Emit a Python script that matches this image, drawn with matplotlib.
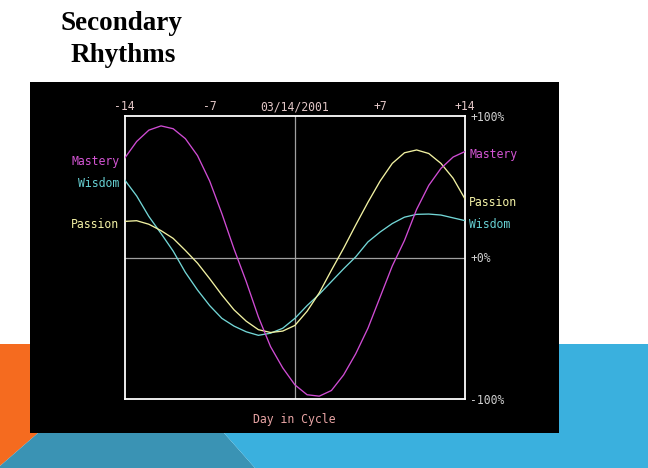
import matplotlib
matplotlib.use('Agg')
import matplotlib.pyplot as plt
from matplotlib.patches import Polygon

# ---------------- data ----------------
days = list(range(-14, 15))
mastery = [70, 82, 90, 93, 91, 84, 72, 54, 31, 6, -17, -42, -63, -78,
           -90,
           -97, -98, -94, -83, -68, -50, -28, -6, 12, 34, 51, 63, 71, 75]
passion = [25.5, 26, 23.5, 19, 13.5, 5, -4, -15, -26.5, -37, -45, -51, -53, -52,
           -48,
           -38, -25, -9, 6.5, 23, 39, 54, 66.5, 74, 76, 73.5, 66.5, 56, 41]
wisdom = [55, 43.5, 29, 17, 4.5, -10.5, -23, -34, -43, -48.5, -52.5, -55, -53.5, -50,
          -43,
          -34, -26, -17, -8, 0.5, 11, 18, 24, 28.5, 30.5, 30.7, 30, 28, 26]
series_names = ['Mastery', 'Wisdom', 'Passion']
top_ticks = [-14, -7, 0, 7, 14]
top_labels = ['-14', '-7', '03/14/2001', '+7', '+14']
y_ticks = [100, 0, -100]
y_labels = ['+100%', '+0%', '-100%']
title_lines = ['Secondary', 'Rhythms']
xlabel = 'Day in Cycle'

# ---------------- figure ----------------
W, H = 648, 468
fig = plt.figure(figsize=(W / 100, H / 100), dpi=100)
fig.patch.set_facecolor('white')


def fx(x):
    return x / W


def fy(y):
    return 1 - y / H


def poly(pts, color, z=-5):
    fig.add_artist(Polygon([(fx(x), fy(y)) for x, y in pts], closed=True,
                           transform=fig.transFigure, facecolor=color,
                           edgecolor='none', zorder=z))


ORANGE = '#F56B1F'
TEAL = '#3A93B4'
LBLUE = '#3AB0DE'

# slide decoration
poly([(0, 344), (40, 344), (40, 433), (0, 433)], ORANGE)
poly([(0, 433), (38, 433), (0, 466)], ORANGE)
poly([(38, 433), (224, 433), (255, 468), (0, 468), (0, 466)], TEAL)
poly([(224, 433), (648, 433), (648, 468), (255, 468)], LBLUE)
poly([(550, 344), (648, 344), (648, 433), (550, 433)], LBLUE)
# black panel
poly([(30, 82), (559, 82), (559, 433), (30, 433)], 'black', z=-4)

# title
fig.text(fx(121), fy(29.5), title_lines[0], ha='center', va='baseline',
         family='Liberation Serif', weight='bold', size=19.5, color='black')
fig.text(fx(123.5), fy(62.5), title_lines[1], ha='center', va='baseline',
         family='Liberation Serif', weight='bold', size=19.5, color='black')

# ---------------- chart ----------------
L, R, T, B = 124.5, 465.3, 116, 399
ax = fig.add_axes([fx(L), fy(B), (R - L) / W, (B - T) / H])
ax.set_facecolor('black')
ax.set_xlim(-14, 14)
ax.set_ylim(-100, 100)
ax.set_xticks([])
ax.set_yticks([])
for s in ax.spines.values():
    s.set_color('white')
    s.set_linewidth(1.3)

ax.axvline(0, color='#a0a0a0', lw=0.9, zorder=1)
ax.axhline(0, color='#a0a0a0', lw=0.9, zorder=1)

colors = {'Mastery': '#D04CD4', 'Wisdom': '#72D6D6', 'Passion': '#F2F2A2'}
label_colors = {'Mastery': '#D455D4', 'Wisdom': '#66CFD2', 'Passion': '#F4F2A6'}
data = {'Mastery': mastery, 'Wisdom': wisdom, 'Passion': passion}

MONO = 'DejaVu Sans Mono'
FS = 8.3

for name in ['Wisdom', 'Passion', 'Mastery']:
    ax.plot(days, data[name], color=colors[name], lw=0.95, zorder=3,
            solid_joinstyle='round')

for name in series_names:
    vals = data[name]
    ax.annotate(name, xy=(days[0], vals[0]), xytext=(-5, -2),
                textcoords='offset pixels', ha='right', va='center_baseline',
                family=MONO, size=FS, color=label_colors[name],
                annotation_clip=False)
    ax.annotate(name, xy=(days[-1], vals[-1]), xytext=(4, -2),
                textcoords='offset pixels', ha='left', va='center_baseline',
                family=MONO, size=FS, color=label_colors[name],
                annotation_clip=False)

for t, lab in zip(top_ticks, top_labels):
    ax.annotate(lab, xy=(t, 1), xycoords=('data', 'axes fraction'),
                xytext=(0, 11), textcoords='offset pixels', ha='center',
                va='center_baseline', family=MONO, size=FS, color='#E2C6C6',
                annotation_clip=False)

for v, lab in zip(y_ticks, y_labels):
    ax.annotate(lab, xy=(1, v), xycoords=('axes fraction', 'data'),
                xytext=(5, 0), textcoords='offset pixels', ha='left',
                va='center_baseline', family=MONO, size=FS, color='#CFCFCF',
                annotation_clip=False)

ax.annotate(xlabel, xy=(0, 0), xycoords=('data', 'axes fraction'),
            xytext=(-1, -19), textcoords='offset pixels', ha='center',
            va='center_baseline', family=MONO, size=FS, color='#E8A4A4',
            annotation_clip=False)

fig.savefig('out.png', dpi=100, facecolor=fig.get_facecolor())
